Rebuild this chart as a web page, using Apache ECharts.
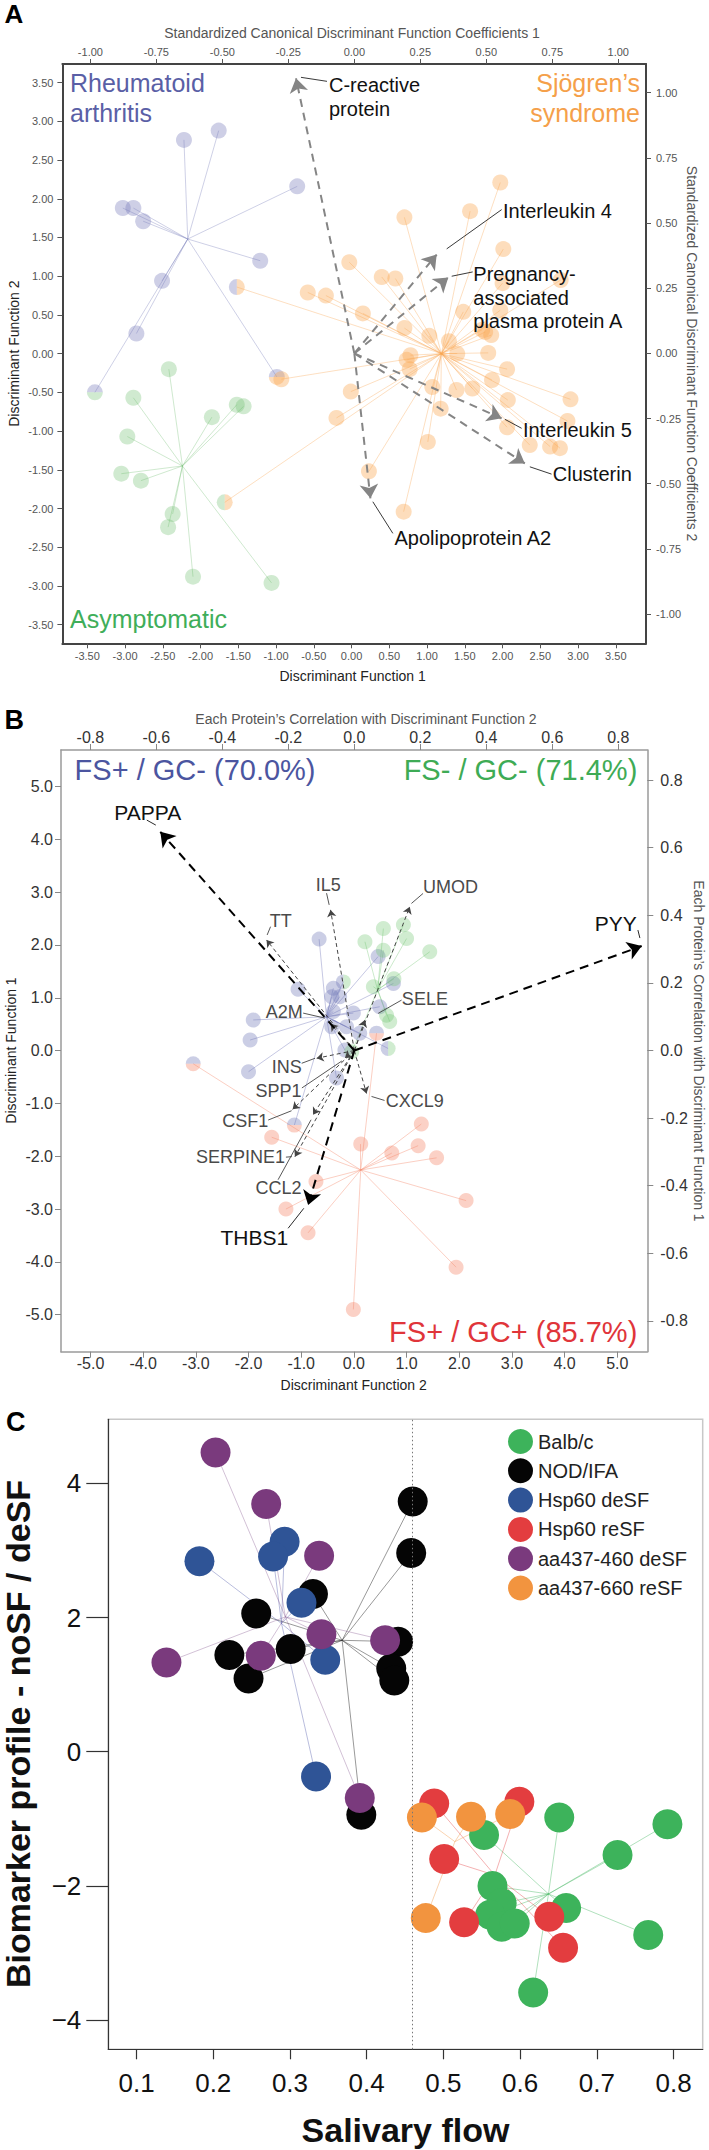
<!DOCTYPE html>
<html><head><meta charset="utf-8">
<script src="https://cdn.jsdelivr.net/npm/echarts@6/dist/echarts.min.js"></script>
<style>html,body{margin:0;padding:0;background:#fff}#c{width:709px;height:2150px}</style>
</head><body><div id="c"></div>
<script>
// ================= Panel A data =================
const aGroupNames = ['Rheumatoid arthritis', 'Sjögren’s syndrome', 'Asymptomatic'];
const aCentroids = [[-2.17, 1.48], [1.19, 0.0], [-2.24, -1.45]];
const aRaPts = [[-2.22,2.76],[-1.76,2.88],[-0.72,2.16],[-3.03,1.88],[-2.89,1.88],[-2.76,1.71],[-1.21,1.20],[-2.51,0.94],[-2.85,0.26]];
const aSsPts = [[1.97,2.21],[1.57,1.84],[0.70,1.76],[2.01,1.35],[-0.03,1.18],[0.40,0.99],[0.58,0.97],[2.77,0.95],[2.00,0.91],[-0.34,0.75],[-0.58,0.79],[0.15,0.52],[1.48,0.54],[1.97,0.56],[0.70,0.33],[1.03,0.23],[1.77,0.28],[1.73,0.31],[1.85,0.24],[1.29,0.16],[1.40,0.00],[1.81,0.01],[0.78,-0.02],[0.73,-0.08],[0.77,-0.20],[2.06,-0.20],[1.86,-0.34],[-0.01,-0.49],[1.07,-0.43],[1.39,-0.47],[1.60,-0.45],[2.07,-0.60],[2.90,-0.59],[1.18,-0.71],[2.06,-0.95],[2.86,-0.87],[2.36,-1.18],[2.63,-1.20],[2.76,-1.22],[-0.20,-0.83],[1.01,-1.14],[0.23,-1.52],[0.69,-2.04],[-0.93,-0.33]];
const aAsPts = [[-2.42,-0.20],[-2.89,-0.57],[-1.85,-0.82],[-1.52,-0.66],[-1.43,-0.68],[-2.97,-1.07],[-3.05,-1.55],[-2.79,-1.64],[-2.37,-2.07],[-2.43,-2.24],[-2.10,-2.88],[-1.06,-2.96]];
// points shown in two colours (group they connect to, halves)
const aMixedPts = [[-3.40,-0.50],[-0.99,-0.30],[-1.52,0.86],[-1.68,-1.92]];
const aMixedGroup = [0, 0, 1, 1];
const aMixedHalves = [[0,2],[0,1],[0,1],[2,1]];
const aArrowNames = ['C-reactive protein','Interleukin 4','Pregnancy-associated plasma protein A','Interleukin 5','Clusterin','Apolipoprotein A2'];
const aArrowX = [-0.221, 0.312, 0.356, 0.558, 0.646, 0.061];
const aArrowY = [1.055, 0.379, 0.291, -0.249, -0.422, -0.556];
const aDfTicks = [-3.5,-3,-2.5,-2,-1.5,-1,-0.5,0,0.5,1,1.5,2,2.5,3,3.5];
const aCoefTicks = [-1,-0.75,-0.5,-0.25,0,0.25,0.5,0.75,1];

// ================= Panel B data =================
const bGroupNames = ['FS+ / GC- (70.0%)', 'FS- / GC- (71.4%)', 'FS+ / GC+ (85.7%)'];
const bCentroids = [[-0.52, 0.64], [0.45, 1.15], [0.13, -2.26]];
const bPurplePts = [[-0.66,2.11],[0.46,1.78],[-1.06,1.16],[-0.39,1.18],[-0.27,1.02],[-0.42,1.02],[0.75,1.27],[-1.91,0.58],[-1.97,0.20],[-2.00,-0.40],[-0.42,0.45],[-0.39,0.74],[-0.01,0.71],[-0.14,0.45],[0.11,0.33],[0.49,0.83],[-0.17,0.01],[-0.33,-0.52]];
const bGreenPts = [[0.56,2.31],[0.94,2.38],[0.21,2.06],[1.00,2.12],[0.56,1.90],[1.44,1.87],[0.37,1.21],[0.76,1.36],[0.62,0.67],[0.68,0.55],[-0.04,-0.02]];
const bSalmonPts = [[1.28,-1.39],[0.13,-1.77],[0.72,-1.94],[1.22,-1.80],[1.57,-2.03],[-1.56,-1.64],[-0.72,-2.48],[-1.29,-3.00],[-0.87,-3.45],[2.13,-2.84],[1.94,-4.10],[-0.01,-4.90]];
const bMixedPts = [[-3.05,-0.25],[0.43,0.33],[-1.13,-1.41],[0.65,0.04],[-0.20,1.30]];
const bMixedGroup = [2, 2, 0, 0, 0];
const bMixedHalves = [[0,2],[0,2],[0,2],[0,1],[0,1]];
const bArrowNames = ['PAPPA','PYY','THBS1','TT','IL5','UMOD','SELE','A2M','INS','SPP1','CSF1','SERPINE1','CCL2','CXCL9'];
const bArrowX = [-0.588, 0.871, -0.140, -0.266, -0.072, 0.168, 0.032, -0.072, -0.114, -0.0285, -0.187, -0.180, -0.125, 0.037];
const bArrowY = [0.647, 0.309, -0.457, 0.327, 0.416, 0.425, 0.090, 0.079, -0.023, -0.022, -0.174, -0.314, -0.190, -0.127];
const bDfTicks = [-5,-4,-3,-2,-1,0,1,2,3,4,5];
const bCorTicks = [-0.8,-0.6,-0.4,-0.2,0,0.2,0.4,0.6,0.8];

// ================= Panel C data =================
const cNames = ['Balb/c','NOD/IFA','Hsp60 deSF','Hsp60 reSF','aa437-460 deSF','aa437-660 reSF'];
const cBalb = [[0.651,-0.98],[0.792,-1.08],[0.553,-1.24],[0.727,-1.54],[0.564,-2.00],[0.660,-2.33],[0.576,-2.26],[0.561,-2.43],[0.576,-2.61],[0.593,-2.56],[0.767,-2.73],[0.617,-3.59]];
const cNod = [[0.460,3.73],[0.458,2.96],[0.330,2.35],[0.256,2.06],[0.221,1.44],[0.246,1.09],[0.301,1.53],[0.441,1.64],[0.432,1.24],[0.436,1.06],[0.393,-0.94]];
const cHspDe = [[0.182,2.84],[0.293,3.13],[0.278,2.91],[0.315,2.22],[0.346,1.37],[0.334,-0.37]];
const cHspRe = [[0.488,-0.77],[0.599,-0.745],[0.501,-1.60],[0.527,-2.54],[0.638,-2.46],[0.656,-2.92]];
const cAa460 = [[0.203,4.46],[0.269,3.69],[0.338,2.92],[0.341,1.75],[0.424,1.66],[0.262,1.43],[0.139,1.33],[0.391,-0.69]];
const cAa660 = [[0.472,-0.98],[0.536,-0.97],[0.587,-0.93],[0.477,-2.48]];
const cCentroids = [[0.637,-2.12],[0.368,1.66],[0.289,1.91],[0.567,-1.84],[0.294,2.01],[0.515,-1.34]];
const cThreshold = 0.46;
const cFlowTicks = [0.1,0.2,0.3,0.4,0.5,0.6,0.7,0.8];
const cProfileTicks = [-4,-2,0,2,4];

// ================= styles / layout =================
const FONT = '"Liberation Sans", Arial, Helvetica, sans-serif';
const aFill = ['rgba(118,122,186,0.36)','rgba(250,165,80,0.38)','rgba(110,190,110,0.32)'];
const aLine = ['rgba(118,122,186,0.45)','rgba(250,165,80,0.45)','rgba(110,190,110,0.42)'];
const bFill = ['rgba(112,118,184,0.36)','rgba(110,195,110,0.32)','rgba(245,135,105,0.38)'];
const bLine = ['rgba(112,118,184,0.5)','rgba(110,195,110,0.45)','rgba(245,135,105,0.5)'];
const cFill = ['#3db35b','#050505','#2f5496','#e33d3f','#7a3a7d','#f2943f'];
const cLine = ['rgba(61,179,91,0.5)','rgba(40,40,40,0.6)','rgba(80,90,170,0.5)','rgba(227,61,63,0.5)','rgba(130,80,140,0.45)','rgba(242,148,63,0.5)'];
const aLabelText = ['C-reactive\nprotein','Interleukin 4','Pregnancy-\nassociated\nplasma protein A','Interleukin 5','Clusterin','Apolipoprotein A2'];
// [leaderStartDx, leaderStartDy, leaderEndDx, leaderEndDy, textDx, textTopDy]
const aLabelLayout = [[5,-1,31,3,33,-4.8],[10,-5.7,65,-45,66.3,-55.5],[3.4,-1.3,24.4,-5.6,25,-14.8],[3.3,1,20,10,21.3,-0.5],[5,3.4,26.7,10.7,28,-0.8],[2.4,3.4,22.4,35,24,27.5]];
// [sx, sy, ex, ey, textDx, textCenterDy, align]
const bLabelLayout = [[-4.5,-6.7,-13.5,-11.7,-12.5,-19,'center'],[-1.8,-8,-3.8,-16,-4.8,-22.7,'right'],[-4.3,3.3,-20,23.3,-20,32.3,'right'],
 [0.6,-5,4,-13.3,3.3,-19,'left'],[-1.4,-5,-4,-16.7,-2.4,-25,'center'],[1.7,-3.4,13.3,-13.4,13.3,-20,'left'],[13.3,-6.7,36.7,-20,37,-20.7,'left'],
 [-5.7,-5.7,-27.4,-10.7,-27.7,-12.3,'right'],[-1.7,0,-15,5,-15,8.4,'right'],[-3,3,-43,30,-43.3,32.7,'right'],[-1,1.4,-24.4,10.7,-24.4,11.4,'right'],
 [-3,0,-9,0.5,-10,0.6,'right'],[-2,5,-35,65,-11.6,73.3,'right'],[5,3,18,7,19.3,7.4,'left']];

const chart = echarts.init(document.getElementById('c'), null, {renderer:'svg', width:709, height:2150});

function axis(kind, gi, pos, min, max, ticks, fmt, st) {
  return {type:'value', gridIndex:gi, position:pos, min:min, max:max, scale:true,
    splitLine:{show:false},
    axisLine:{show:true, onZero:false, lineStyle:{color:st.lc, width:st.lw}},
    axisTick:{show:true, inside:false, length:st.tl, lineStyle:{color:st.tc, width:st.tw||1}, customValues:ticks},
    axisLabel:{show:true, customValues:ticks, formatter:fmt, color:st.fc, fontSize:st.fs, fontFamily:FONT, margin:st.m, hideOverlap:false, showMinLabel:true, showMaxLabel:true}};
}
const f2 = v => Number(v).toFixed(2);
const f1 = v => Number(v).toFixed(1);
const fC = v => v === 0 ? '0' : (v < 0 ? '\u2212' + Math.abs(v) : String(v));

const stA = {lc:'#444', lw:2, tl:5, tc:'#555', fc:'#555', fs:11};
const stB = {lc:'#9a9a9a', lw:1.5, tl:6, tc:'#888', fc:'#333', fs:16};
const xAxes = [
  axis('x',0,'bottom',-3.83,3.90,aDfTicks,f2,Object.assign({},stA,{m:7})),
  axis('x',0,'top',-1.106,1.105,aCoefTicks,f2,Object.assign({},stA,{m:7})),
  axis('x',1,'bottom',-5.56,5.57,bDfTicks,f1,Object.assign({},stB,{m:4})),
  axis('x',1,'top',-0.889,0.888,bCorTicks,f1,Object.assign({},stB,{m:5})),
  axis('x',2,'bottom',0.0632,0.838,cFlowTicks,f1,{lc:'#333',lw:1.2,tl:10,tc:'#333',tw:1.2,fc:'#111',fs:26,m:21})
];
const yAxes = [
  axis('y',0,'left',-3.74,3.74,aDfTicks,f2,Object.assign({},stA,{m:9})),
  axis('y',0,'right',-1.112,1.11,aCoefTicks,f2,Object.assign({},stA,{m:10})),
  axis('y',1,'left',-5.70,5.69,bDfTicks,f1,Object.assign({},stB,{m:8})),
  axis('y',1,'right',-0.891,0.889,bCorTicks,f1,Object.assign({},stB,{m:13})),
  axis('y',2,'left',-4.435,4.954,cProfileTicks,fC,{lc:'#333',lw:1.2,tl:22,tc:'#333',tw:1.2,fc:'#111',fs:26,m:27})
];

function spokes(xi, yi, centroid, pts, color, z, w) {
  return {type:'lines', coordinateSystem:'cartesian2d', xAxisIndex:xi, yAxisIndex:yi, silent:true, z:z,
    lineStyle:{color:color, width:w || 0.8, opacity:1},
    data: pts.map(p => ({coords:[centroid, p]}))};
}
function dots(xi, yi, pts, color, size, z, name) {
  const s = {type:'scatter', xAxisIndex:xi, yAxisIndex:yi, silent:true, z:z, symbol:'circle', symbolSize:size,
    itemStyle:{color:color, opacity:1}, data:pts};
  if (name) s.name = name;
  return s;
}
function mixed(xi, yi, pts, halves, split, colors, r, z) {
  return {type:'custom', coordinateSystem:'cartesian2d', xAxisIndex:xi, yAxisIndex:yi, silent:true, z:z,
    data: pts.map((p,i) => [p[0], p[1], i]),
    renderItem: function(params, api) {
      const i = api.value(2);
      const c = api.coord([api.value(0), api.value(1)]);
      const s = split[i] === 'tb' ? Math.PI : Math.PI / 2;
      return {type:'group', children:[
        {type:'sector', shape:{cx:c[0], cy:c[1], r0:0, r:r, startAngle:s, endAngle:s + Math.PI, clockwise:true}, style:{fill:colors[halves[i][0]]}},
        {type:'sector', shape:{cx:c[0], cy:c[1], r0:0, r:r, startAngle:s + Math.PI, endAngle:s + 2*Math.PI, clockwise:true}, style:{fill:colors[halves[i][1]]}}
      ]};
    }};
}
function arrows(xi, yi, xs, ys, idx, color, width, dash, size, z) {
  return {type:'lines', coordinateSystem:'cartesian2d', xAxisIndex:xi, yAxisIndex:yi, silent:true, z:z,
    symbol:['none','arrow'], symbolSize:size,
    lineStyle:{color:color, width:width, type:dash, opacity:1},
    data: idx.map(i => ({coords:[[0,0],[xs[i], ys[i]]]}))};
}

const series = [];
// ---- Panel A
const aPts = [aRaPts, aSsPts, aAsPts];
aPts.forEach((pts,g) => {
  const extra = aMixedPts.filter((p,i) => aMixedGroup[i] === g);
  series.push(spokes(0,0,aCentroids[g], pts.concat(extra), aLine[g], 1));
});
aPts.forEach((pts,g) => series.push(dots(0,0,pts,aFill[g],16,2)));
series.push(mixed(0,0,aMixedPts,aMixedHalves,['tb','tb','lr','lr'],aFill,8,2));
series.push(arrows(1,1,aArrowX,aArrowY,[0,1,2,3,4,5],'#858585',2,[8,6],14,5));
// ---- Panel B
const bPts = [bPurplePts, bGreenPts, bSalmonPts];
bPts.forEach((pts,g) => {
  const extra = bMixedPts.filter((p,i) => bMixedGroup[i] === g);
  series.push(spokes(2,2,bCentroids[g], pts.concat(extra), bLine[g], 1));
});
bPts.forEach((pts,g) => series.push(dots(2,2,pts,bFill[g],15,2)));
series.push(mixed(2,2,bMixedPts,bMixedHalves,['tb','tb','tb','lr','lr'],bFill,7.5,2));
series.push(arrows(3,3,bArrowX,bArrowY,[3,4,5,6,7,8,9,10,11,12,13],'#444',1,[4,3],7,5));
series.push(arrows(3,3,bArrowX,bArrowY,[0,1,2],'#000',2,[9,6],14,6));
// ---- Panel C
const cPts = [cBalb, cNod, cHspDe, cHspRe, cAa460, cAa660];
cPts.forEach((pts,g) => series.push(spokes(4,4,cCentroids[g], pts, cLine[g], 1, 0.8)));
cPts.forEach((pts,g) => {
  const s = dots(4,4,pts,cFill[g],30,2,cNames[g]);
  if (g === 0) s.markLine = {silent:true, symbol:['none','none'], label:{show:false},
    lineStyle:{color:'#777', type:[1.5,2.5], width:1}, data:[{xAxis:cThreshold}]};
  series.push(s);
});

chart.setOption({
  animation:false,
  backgroundColor:'#fff',
  textStyle:{fontFamily:FONT},
  grid:[
    {left:62.4, top:64, width:583.6, height:579.3},
    {left:61, top:750, width:586.3, height:601.7},
    {left:108.3, top:1419.3, width:594.4, height:630, show:true, borderColor:'#c8c8c8', borderWidth:1.5, backgroundColor:'transparent'}
  ],
  xAxis:xAxes, yAxis:yAxes,
  legend:{data:cNames, left:508, top:1429, orient:'vertical', itemWidth:25, itemHeight:25, itemGap:4.3, icon:'circle',
    padding:0, selectedMode:false, textStyle:{fontSize:20, color:'#222', fontFamily:FONT}},
  series:series
});

// ---------- annotations ----------
function txt(text, x, y, o) {
  return {type:'text', x:x, y:y, rotation:o.rot || 0, z:100, silent:true,
    style:{text:text, x:0, y:0, fill:o.color || '#000', fontSize:o.size, fontFamily:FONT, fontWeight:o.weight || 'normal',
      align:o.align || 'left', textAlign:o.align || 'left', verticalAlign:o.va || 'middle', textVerticalAlign:o.va || 'middle',
      lineHeight:o.lh || Math.round(o.size * 1.2)}};
}
function seg(x1,y1,x2,y2,color,w) {
  return {type:'line', z:100, silent:true, shape:{x1:x1,y1:y1,x2:x2,y2:y2}, style:{stroke:color, lineWidth:w}};
}
const G = [];
aArrowNames.forEach((n,i) => {
  const t = chart.convertToPixel({xAxisIndex:1, yAxisIndex:1}, [aArrowX[i], aArrowY[i]]);
  const L = aLabelLayout[i];
  G.push(seg(t[0]+L[0], t[1]+L[1], t[0]+L[2], t[1]+L[3], '#222', 0.9));
  G.push(txt(aLabelText[i], t[0]+L[4], t[1]+L[5], {size:20, va:'top', lh:23.5, color:'#111'}));
});
bArrowNames.forEach((n,i) => {
  const t = chart.convertToPixel({xAxisIndex:3, yAxisIndex:3}, [bArrowX[i], bArrowY[i]]);
  const L = bLabelLayout[i];
  const major = i < 3;
  G.push(seg(t[0]+L[0], t[1]+L[1], t[0]+L[2], t[1]+L[3], major ? '#111' : '#444', 0.9));
  G.push(txt(n, t[0]+L[4], t[1]+L[5], {size: major ? 21 : 18, align:L[6], color: major ? '#111' : '#4a4a4a'}));
});
// panel letters
G.push(txt('A', 4.5, 14, {size:26, weight:'bold'}));
G.push(txt('B', 4.5, 720, {size:27, weight:'bold'}));
G.push(txt('C', 6, 1422, {size:27, weight:'bold'}));
// panel A texts
G.push(txt('Rheumatoid\narthritis', 70, 68.3, {size:25, va:'top', lh:30, color:'#5a5fa6'}));
G.push(txt('Sjögren’s\nsyndrome', 640, 68.3, {size:25, va:'top', lh:30, align:'right', color:'#f5a04a'}));
G.push(txt('Asymptomatic', 70, 619.3, {size:25, color:'#3fae5a'}));
G.push(txt('Standardized Canonical Discriminant Function Coefficients 1', 352, 33.3, {size:14, align:'center', color:'#555'}));
G.push(txt('Discriminant Function 1', 352.6, 676, {size:14, align:'center', color:'#222'}));
G.push(txt('Discriminant Function 2', 14, 353.6, {size:14, align:'center', color:'#222', rot:Math.PI/2}));
G.push(txt('Standardized Canonical Discriminant Function Coefficients 2', 691.6, 353.6, {size:14, align:'center', color:'#555', rot:-Math.PI/2}));
// panel B texts
G.push(txt(bGroupNames[0], 74.6, 770, {size:29, color:'#4b55a0'}));
G.push(txt(bGroupNames[1], 637.3, 770, {size:29, align:'right', color:'#3eab55'}));
G.push(txt(bGroupNames[2], 637.3, 1331.7, {size:29, align:'right', color:'#e0353a'}));
G.push(txt('Each Protein’s Correlation with Discriminant Function 2', 366, 719.3, {size:14, align:'center', color:'#555'}));
G.push(txt('Discriminant Function 2', 353.7, 1385, {size:14, align:'center', color:'#222'}));
G.push(txt('Discriminant Function 1', 11, 1050.5, {size:14, align:'center', color:'#222', rot:Math.PI/2}));
G.push(txt('Each Protein’s Correlation with Discriminant Function 1', 699, 1051, {size:14, align:'center', color:'#555', rot:-Math.PI/2}));
// panel C texts
G.push(txt('Salivary flow', 405.5, 2130, {size:34, weight:'bold', align:'center', color:'#111'}));
G.push(txt('Biomarker profile - noSF / deSF', 18, 1734, {size:34, weight:'bold', align:'center', color:'#111', rot:Math.PI/2}));
chart.setOption({graphic:G});
</script></body></html>
